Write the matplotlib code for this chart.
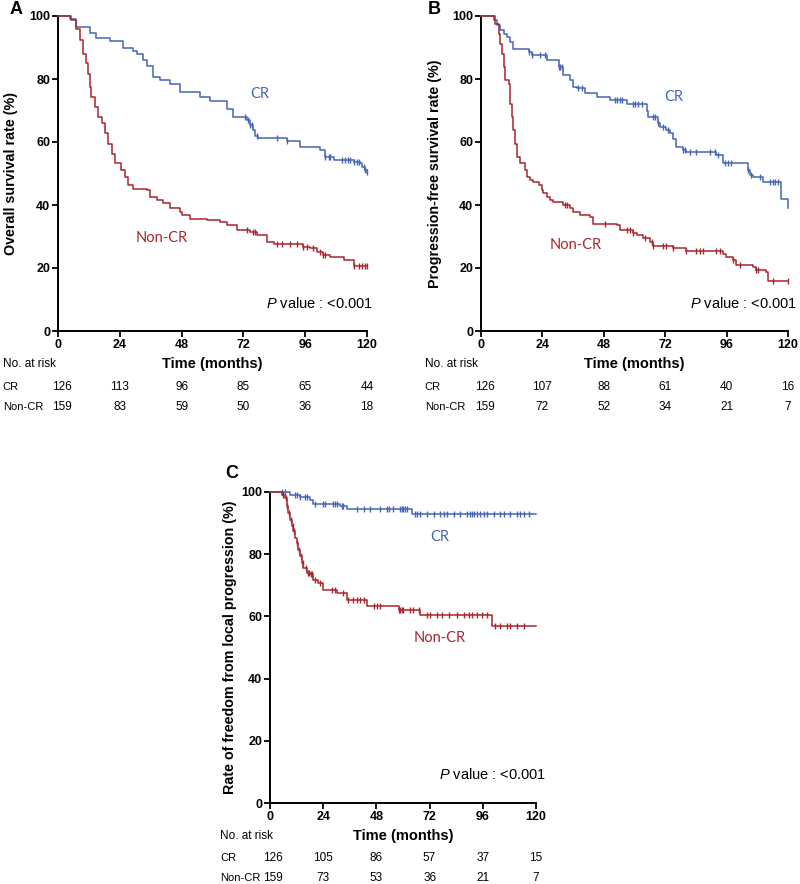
import matplotlib
matplotlib.use("Agg")
import matplotlib.pyplot as plt
import numpy as np

plt.rcParams['font.family'] = ['Liberation Sans', 'DejaVu Sans']
plt.rcParams['mathtext.fontset'] = 'custom'
plt.rcParams['mathtext.it'] = 'Liberation Sans:italic'
plt.rcParams['mathtext.rm'] = 'Liberation Sans'

BLUE = '#4565b5'
RED = '#a8262c'

# ---- data (time in months, survival in %) ----
xticks = [0, 24, 48, 72, 96, 120]
groups = ['CR', 'Non-CR']

# Panel A: overall survival
a_cr_t = [0, 4.5, 7.1, 12.3, 14.9, 20.1, 25.3, 29.2, 30.5, 33.1, 34.4, 37.0, 39.6, 43.4, 47.3,
          55.1, 59.0, 65.5, 68.1, 73.3, 74.6, 75.9, 76.5, 77.8, 88.8, 94.0, 101.8, 103.8, 107.0,
          114.8, 117.4, 118.0, 119.3, 120]
a_cr_s = [100, 99, 96.5, 94.5, 93, 92, 90, 89, 88, 86, 84, 80.6, 79.6, 78.5, 76,
          74.3, 73, 70.6, 68, 67, 65.3, 63.7, 62, 61.2, 60.2, 58.5, 57.4, 55.3, 54.2,
          53.7, 53.2, 52, 51.2, 50.5]
a_cr_cens = [72.6, 73.9, 74.6, 75.2, 77.2, 85.0, 88.8, 103.8, 105.1, 105.7, 110.2, 111.5, 112.8,
             113.5, 114.8, 116.1, 116.7, 118.7, 119.3, 120]
a_ncr_t = [0, 5.2, 7.1, 8.4, 9.7, 11.0, 11.7, 12.3, 13.0, 14.3, 15.6, 16.9, 18.2, 19.5, 20.8,
           22.0, 24.6, 25.9, 27.2, 29.2, 34.4, 35.7, 38.3, 40.9, 43.4, 47.3, 48.0, 51.2, 57.7,
           62.9, 65.5, 69.4, 74.6, 77.2, 81.1, 83.7, 95.3, 97.9, 100.5, 103.1, 105.7, 110.9,
           114.8, 120]
a_ncr_s = [100, 98.6, 96, 92.3, 88, 85, 81.7, 77.5, 74.3, 71, 68, 66, 62.7, 59.5, 56.3,
           53.2, 51, 49, 46.3, 45.2, 44.7, 42.6, 41.5, 40.5, 38.9, 37.8, 36.8, 35.7, 35.2,
           34.7, 33.6, 32, 31.5, 30.4, 28.3, 27.6, 26.7, 26.2, 25.2, 24.1, 23.6, 22.5,
           20.7, 20.7]
a_ncr_cens = [73.3, 75.9, 76.5, 85.0, 86.9, 90.1, 92.7, 95.3, 96.6, 99.2, 101.8, 103.1, 103.8,
              114.8, 116.7, 118.0, 119.3, 120]
a_risk_cr = [126, 113, 96, 85, 65, 44]
a_risk_ncr = [159, 83, 59, 50, 36, 18]

# Panel B: progression-free survival
b_cr_t = [0, 4.9, 6.2, 7.5, 8.8, 10.1, 11.4, 12.7, 18.6, 19.9, 25.7, 30.3, 32.2, 34.8, 36.1,
          37.4, 40.7, 45.2, 50.4, 56.9, 64.7, 65.4, 69.3, 69.9, 72.5, 73.8, 75.1, 76.4, 79.0,
          80.3, 92.0, 94.6, 104.4, 105.0, 106.3, 110.2, 117.4, 120]
b_cr_s = [100, 98.6, 97, 95.5, 94.4, 93.3, 91.8, 89.6, 88.6, 87.5, 86, 83.8, 81.2, 79.6, 77.5,
          77, 75.4, 74.3, 73.3, 72.2, 70, 68, 65.9, 64.8, 63.7, 62.7, 61.1, 58.5, 57.4,
          56.9, 55.8, 53.2, 51, 49.4, 48.9, 47.2, 41.8, 39.2]
b_cr_cens = [18.6, 19.9, 23.1, 25.1, 30.3, 30.9, 31.6, 38.1, 39.3, 52.4, 53.0, 54.3, 55.0, 59.5,
             60.2, 61.5, 62.8, 67.3, 68.0, 69.3, 71.2, 73.2, 79.0, 79.7, 81.6, 84.2, 89.4,
             91.4, 92.7, 95.3, 96.6, 97.9, 104.4, 105.7, 108.9, 112.8, 114.1, 114.8, 116.1]
b_ncr_t = [0, 5.5, 6.9, 7.5, 8.2, 8.8, 9.5, 10.8, 11.4, 12.1, 12.7, 13.4, 14.0, 15.3, 17.3,
           17.9, 19.2, 20.5, 22.5, 23.8, 24.4, 25.7, 27.0, 28.3, 32.2, 34.8, 36.1, 38.7, 42.6,
           43.9, 53.0, 54.3, 59.5, 60.8, 63.4, 66.0, 67.3, 75.1, 80.3, 94.6, 95.9, 98.5, 99.8,
           106.3, 107.6, 111.5, 112.1, 120]
b_ncr_s = [100, 97.6, 94.4, 91.2, 88, 83.8, 79.6, 78.5, 72.2, 68, 63.7, 59.5, 55.3, 53.2, 51,
           49, 47.9, 47.4, 46.3, 44.7, 43.7, 42.6, 41.5, 41, 40, 38.9, 37.8, 36.8, 36.3,
           34.1, 33.6, 32, 31, 30.4, 29.4, 28.3, 26.9, 26.2, 25.5, 24.6, 23.6, 22.5, 20.9,
           20.4, 19.5, 18.8, 16.0, 16.0]
b_ncr_cens = [32.9, 33.5, 48.5, 56.9, 58.2, 59.5, 64.1, 66.7, 67.3, 71.2, 72.5, 75.1, 80.3,
              84.2, 85.5, 86.8, 92.0, 93.3, 98.5, 101.1, 107.6, 108.3, 114.1, 120]
b_risk_cr = [126, 107, 88, 61, 40, 16]
b_risk_ncr = [159, 72, 52, 34, 21, 7]

# Panel C: freedom from local progression
c_cr_t = [0, 9.0, 13.6, 18.1, 19.6, 31.6, 34.6, 64.0, 120]
c_cr_s = [100, 99.1, 98.3, 97.5, 96.2, 95.4, 94.6, 93, 93]
c_cr_cens = [5.3, 6.8, 11.3, 12.0, 13.6, 15.8, 16.6, 20.3, 24.1, 24.8, 28.6, 29.4, 30.1, 32.4,
             33.1, 39.2, 42.2, 45.2, 49.7, 52.7, 53.5, 55.7, 58.7, 59.5, 60.2, 61.0, 61.7,
             65.5, 66.3, 67.8, 70.8, 73.8, 76.8, 78.3, 79.8, 82.8, 85.8, 88.8, 90.4, 91.1,
             91.9, 93.4, 94.9, 96.4, 97.9, 100.9, 103.9, 105.4, 108.4, 111.4, 112.9, 114.4,
             116.7]
c_ncr_t = [0, 5.3, 6.8, 7.5, 8.3, 9.0, 9.8, 10.5, 11.3, 12.0, 12.8, 13.6, 14.3, 15.1, 16.6,
           18.1, 19.6, 21.8, 24.1, 30.0, 34.6, 43.7, 58.0, 67.8, 100.1, 120]
c_ncr_s = [100, 99.1, 98.1, 95.4, 93.2, 91.1, 89, 87.4, 85.2, 83.6, 81.5, 79.3, 77.2, 75.6, 74,
           73.5, 71.8, 70.7, 68.6, 67.5, 65.4, 63.2, 62.0, 60.6, 56.8, 56.8]
c_ncr_cens = [6.0, 7.2, 7.8, 8.7, 9.3, 10.2, 10.8, 12.3, 12.9, 13.9, 14.8, 16.3, 17.3, 17.8,
              18.4, 18.8, 20.3, 22.6, 27.9, 29.4, 33.1, 35.4, 37.6, 39.2, 40.7, 42.2, 46.7,
              48.2, 49.7, 58.0, 58.7, 59.5, 60.2, 63.2, 64.7, 67.0, 70.8, 72.3, 75.3, 77.6,
              80.6, 84.4, 87.4, 89.6, 91.1, 93.4, 95.6, 97.9, 101.6, 103.9, 106.9, 108.4,
              111.4, 114.4]
c_risk_cr = [126, 105, 86, 57, 37, 15]
c_risk_ncr = [159, 73, 53, 36, 21, 7]


def km(ax, t, s, cens, color):
    t = np.asarray(t)
    s = np.asarray(s)
    ax.step(t, s, where='post', color=color, lw=1.1, clip_on=False, zorder=3)
    idx = np.searchsorted(t, cens, side='right') - 1
    ax.plot(cens, s[idx], ls='none', marker='|', ms=5, mew=1.0, color=color,
            clip_on=False, zorder=3)


def panel(ax, ylabel, curves, risk, cr_xy, ncr_xy, p_x, p_y, ylab_x, lab_x):
    for t, s, c, col in curves:
        km(ax, t, s, c, col)
    ax.set_xlim(0, 120)
    ax.set_ylim(0, 100)
    ax.set_xticks(xticks)
    ax.set_yticks([0, 20, 40, 60, 80, 100])
    for side in ['top', 'right']:
        ax.spines[side].set_visible(False)
    for side in ['left', 'bottom']:
        ax.spines[side].set_linewidth(1.4)
    ax.tick_params(direction='out', length=4, width=1.3, pad=1.5)
    for lab in ax.get_xticklabels() + ax.get_yticklabels():
        lab.set_fontweight('bold')
        lab.set_fontsize(9)
    ax.set_ylabel(ylabel, fontsize=10.3, fontweight='bold')
    ax.yaxis.set_label_coords(ylab_x, 0.5)
    tr = ax.get_xaxis_transform()
    ax.text(60, -0.105, 'Time (months)', transform=tr,
            ha='center', va='center', fontsize=10.5, fontweight='bold')
    ax.text(lab_x, -0.105, 'No. at risk', transform=tr,
            ha='left', va='center', fontsize=8.5)
    rows = [-0.178, -0.24]
    for g, vals, yy in zip(groups, risk, rows):
        ax.text(lab_x, yy, g, transform=tr, ha='left', va='center', fontsize=8)
        for x, v in zip(xticks, vals):
            ax.text(x + (1.5 if x == 0 else 0), yy, str(v), transform=tr, ha='center',
                    va='center', fontsize=8.5)
    ax.text(cr_xy[0], cr_xy[1], 'CR', color=BLUE, fontsize=10.5,
            family=['Lato', 'DejaVu Sans'], ha='center', va='center')
    ax.text(ncr_xy[0], ncr_xy[1], 'Non-CR', color=RED, fontsize=10.5,
            family=['Lato', 'DejaVu Sans'], ha='center', va='center')
    ax.text(p_x, p_y, r'$\it{P}$ value : <0.001', fontsize=10.5, ha='right', va='center')


fig = plt.figure(figsize=(8, 8.84), dpi=100)
axA = fig.add_axes([58 / 800, 1 - 331 / 884, 309 / 800, 315 / 884])
axB = fig.add_axes([481 / 800, 1 - 331 / 884, 307 / 800, 315 / 884])
axC = fig.add_axes([270 / 800, 1 - 803 / 884, 266 / 800, 311 / 884])

panel(axA, 'Overall survival rate (%)',
      [(a_cr_t, a_cr_s, a_cr_cens, BLUE), (a_ncr_t, a_ncr_s, a_ncr_cens, RED)],
      [a_risk_cr, a_risk_ncr], (78.4, 75.2), (40.4, 29.5), 122.3, 8.6, -0.13, -21.5)
panel(axB, 'Progression-free survival rate (%)',
      [(b_cr_t, b_cr_s, b_cr_cens, BLUE), (b_ncr_t, b_ncr_s, b_ncr_cens, RED)],
      [b_risk_cr, b_risk_ncr], (75.4, 74.3), (37.1, 27.3), 123.5, 8.6, -0.127, -22)
panel(axC, 'Rate of freedom from local progression (%)',
      [(c_cr_t, c_cr_s, c_cr_cens, BLUE), (c_ncr_t, c_ncr_s, c_ncr_cens, RED)],
      [c_risk_cr, c_risk_ncr], (76.7, 85.5), (76.7, 53.0), 124.5, 9.3, -0.124, -22.5)

fig.text(10 / 800, 1 - 10 / 884, 'A', fontsize=13, fontweight='bold', ha='left', va='center')
fig.text(428 / 800, 1 - 10 / 884, 'B', fontsize=13, fontweight='bold', ha='left', va='center')
fig.text(225 / 800, 1 - 473 / 884, 'C', fontsize=13, fontweight='bold', ha='left', va='center')

fig.savefig('out.png', dpi=100, facecolor='white')
